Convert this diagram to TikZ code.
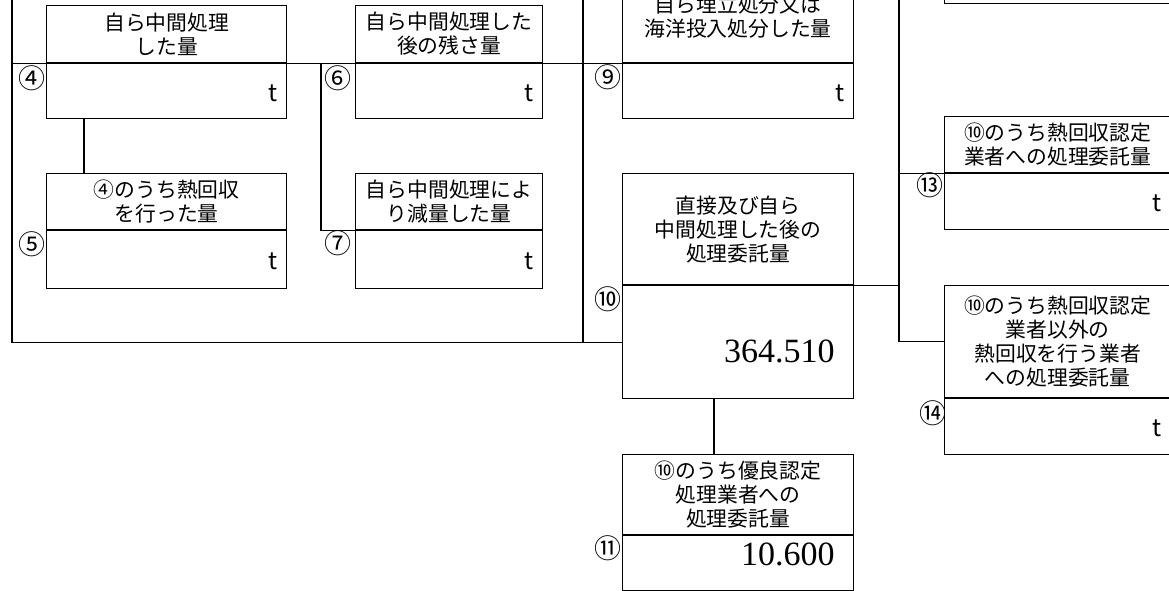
\documentclass[tikz,border=0pt]{standalone}
\usepackage{fontspec}
\newfontfamily\jp{Noto Sans CJK JP}
\newfontfamily\numfont{Liberation Serif}
\usetikzlibrary{positioning}

\newcommand{\titlefont}{\jp\fontsize{20.8}{24}\selectfont}
\newcommand{\unitfont}{\jp\fontsize{24}{24}\selectfont}
\newcommand{\valfont}{\numfont\fontsize{34}{34}\selectfont}
\newcommand{\markfont}{\jp\fontsize{27}{27}\selectfont}

\tikzset{
  titlebox/.style={draw, inner sep=0pt, align=center, font=\titlefont, minimum width=#1},
  amountbox/.style={draw, inner ysep=0pt, inner xsep=9pt, text width=#1, align=right,
    font=\unitfont, text height=20pt, text depth=0pt},
  valnum/.style={amountbox=#1, inner xsep=19pt, font=\valfont},
  circnum/.style={font=\markfont, inner sep=0pt},
}

\begin{document}
\begin{tikzpicture}[x=1pt, y=-1pt, line width=1.2pt]
    \useasboundingbox (0,0) rectangle (1169,590);
    \clip (0,0) rectangle (1169,590);

    % left column
    \node[titlebox=240pt, minimum height=57pt, anchor=north west] (h4) at (46,5) {自ら中間処理\\した量};
    \node[amountbox=222pt, minimum height=55pt, below=0pt of h4] (v4) {t};
    \node[titlebox=240pt, minimum height=56pt, anchor=north west] (h5) at (46,173) {④のうち熱回収\\を行った量};
    \node[amountbox=222pt, minimum height=58pt, below=0pt of h5] (v5) {t};

    % second column
    \node[titlebox=187pt, minimum height=57pt, anchor=north west] (h6) at (355,5) {自ら中間処理した\\後の残さ量};
    \node[amountbox=169pt, minimum height=55pt, below=0pt of h6] (v6) {t};
    \node[titlebox=187pt, minimum height=56pt, anchor=north west] (h7) at (355,173) {自ら中間処理によ\\り減量した量};
    \node[amountbox=169pt, minimum height=58pt, below=0pt of h7] (v7) {t};

    % third column
    \node[titlebox=231pt, minimum height=92pt, anchor=north west] (h9) at (622,-30) {自ら埋立処分又は\\海洋投入処分した量};
    \node[amountbox=213pt, minimum height=55pt, below=0pt of h9] (v9) {t};
    \node[titlebox=231pt, minimum height=111pt, anchor=north west] (h10) at (622,173) {直接及び自ら\\中間処理した後の\\処理委託量};
    \node[valnum=193pt, minimum height=113pt, text height=40pt, below=0pt of h10] (v10) {364.510};
    \node[titlebox=231pt, minimum height=80pt, anchor=north west] (h11) at (622,454) {⑩のうち優良認定\\処理業者への\\処理委託量};
    \node[valnum=193pt, minimum height=55pt, text height=22pt, text depth=18pt, below=0pt of h11] (v11) {10.600};

    % right column
    \node[draw, minimum width=226pt, minimum height=64pt, anchor=south west] (h12) at (944,4) {};
    \node[titlebox=226pt, minimum height=56pt, anchor=north west] (h13) at (944,116) {⑩のうち熱回収認定\\業者への処理委託量};
    \node[amountbox=208pt, minimum height=56pt, below=0pt of h13] (v13) {t};
    \node[titlebox=226pt, minimum height=112pt, anchor=north west] (h14) at (944,285) {⑩のうち熱回収認定\\業者以外の\\熱回収を行う業者\\への処理委託量};
    \node[amountbox=208pt, minimum height=56pt, below=0pt of h14] (v14) {t};

    % circled numbers
    \node[circnum] (n4) at ([shift={(-14,15)}]v4.north west) {④};
    \node[circnum] (n5) at ([shift={(-14,14)}]v5.north west) {⑤};
    \node[circnum] (n6) at ([shift={(-17,15)}]v6.north west) {⑥};
    \node[circnum] (n7) at ([shift={(-17,13)}]v7.north west) {⑦};
    \node[circnum] (n9) at ([shift={(-14,14)}]v9.north west) {⑨};
    \node[circnum] (n10) at ([shift={(-14,14)}]v10.north west) {⑩};
    \node[circnum] (n11) at ([shift={(-14,13)}]v11.north west) {⑪};
    \node[circnum] (n13) at ([shift={(-14,12)}]v13.north west) {⑬};
    \node[circnum] (n14) at ([shift={(-11,15)}]v14.north west) {⑭};

    % lines
    \coordinate (frame) at (12,0);
    \coordinate (bus6) at (321,0);
    \coordinate (bus9) at (583,0);
    \coordinate (bus13) at (899,0);
    \coordinate (tap5) at (84,0);
    \coordinate (tap11) at (714,0);
    \draw (frame) |- (v10.west);
    \draw (frame |- v4.north) -- (v9.north west);
    \draw (bus6 |- v6.north) |- (v7.north west);
    \draw (bus9) -- (bus9 |- v10.west);
    \draw (tap5 |- v4.south) -- (tap5 |- h5.north);
    \draw (tap11 |- v10.south) -- (tap11 |- h11.north);
    \draw (v10.north east) -- (bus13 |- v10.north);
    \draw (bus13) |- (h14.west);
    \draw (bus13 |- v13.north) -- (v13.north west);
\end{tikzpicture}
\end{document}
